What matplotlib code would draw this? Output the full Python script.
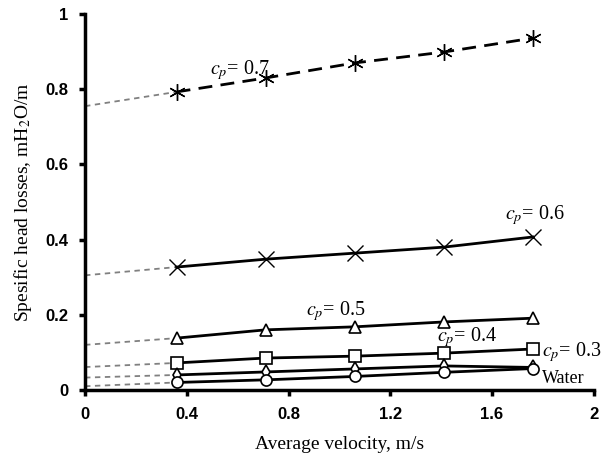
import matplotlib.pyplot as plt
import numpy as np

plt.rcParams['mathtext.fontset'] = 'stix'

# average velocity, m/s
v = [0.36, 0.71, 1.06, 1.41, 1.76]

# specific head losses, mH2O/m
cp07 = [0.793, 0.83, 0.87, 0.899, 0.936]
cp06 = [0.327, 0.348, 0.364, 0.38, 0.407]
cp05 = [0.138, 0.16, 0.168, 0.181, 0.191]
cp04 = [0.072, 0.085, 0.09, 0.098, 0.109]
cp03 = [0.04, 0.048, 0.056, 0.064, 0.06]
water = [0.02, 0.027, 0.036, 0.047, 0.057]

# values at v = 0 (extrapolation)
intercepts = [0.755, 0.305, 0.12, 0.061, 0.033, 0.01]

labels = ['0.7', '0.6', '0.5', '0.4', '0.3', 'Water']
xticks = [0, 0.4, 0.8, 1.2, 1.6, 2]
yticks = [0, 0.2, 0.4, 0.6, 0.8, 1]

fig = plt.figure(figsize=(6.16, 4.54), dpi=100)
ax = fig.add_axes([0.138, 0.141, 0.826, 0.828])

series = [cp07, cp06, cp05, cp04, cp03, water]
markers = [(6, 2, 0), 'x', '^', 's', 'd', 'o']
msizes = [12, 11, 8, 8, 7, 8]
mews = [1.0, 1.0, 1.2, 1.2, 1.2, 1.2]

for ys, b in zip(series, intercepts):
    ax.plot([0, v[0]], [b, ys[0]], color='#808080', ls=(0, (3, 2.5)), lw=1.3, zorder=1)

for i, ys in enumerate(series):
    ls = (0, (5, 3)) if i == 0 else '-'
    ax.plot(v, ys, color='black', lw=2, ls=ls, marker=markers[i], ms=msizes[i],
            mfc='white' if i > 1 else 'black', mec='black', mew=mews[i], zorder=3)

# curve labels
tx = [0.49, 1.65, 0.87, 1.385, 1.795]
ty = [0.84, 0.455, 0.2, 0.13, 0.09]
for i in range(5):
    ax.text(tx[i], ty[i], r'$c_p$= ' + labels[i], fontsize=14.5, family='Liberation Serif',
            va='baseline', ha='left')
ax.text(1.795, 0.019, labels[5], fontsize=13, family='Liberation Serif', va='baseline', ha='left')

ax.set_xlim(0, 2)
ax.set_ylim(0, 1)
ax.set_xticks(xticks)
ax.set_xticklabels([str(t) for t in xticks])
ax.set_yticks(yticks)
ax.set_yticklabels([str(t) for t in yticks])

for s in ['top', 'right']:
    ax.spines[s].set_visible(False)
for s in ['left', 'bottom']:
    ax.spines[s].set_linewidth(2.5)
ax.tick_params(direction='out', length=4, width=2.5, labelsize=12, pad=8)
for lab in ax.get_xticklabels() + ax.get_yticklabels():
    lab.set_fontweight('bold')
    lab.set_family('Liberation Sans')

ax.set_xlabel('Average velocity, m/s', fontsize=14, family='Liberation Serif', labelpad=10)
ax.set_ylabel(r'Spesific head losses, mH$_2$O/m', fontsize=14, family='Liberation Serif', labelpad=8)

plt.savefig('out.png', dpi=100)
